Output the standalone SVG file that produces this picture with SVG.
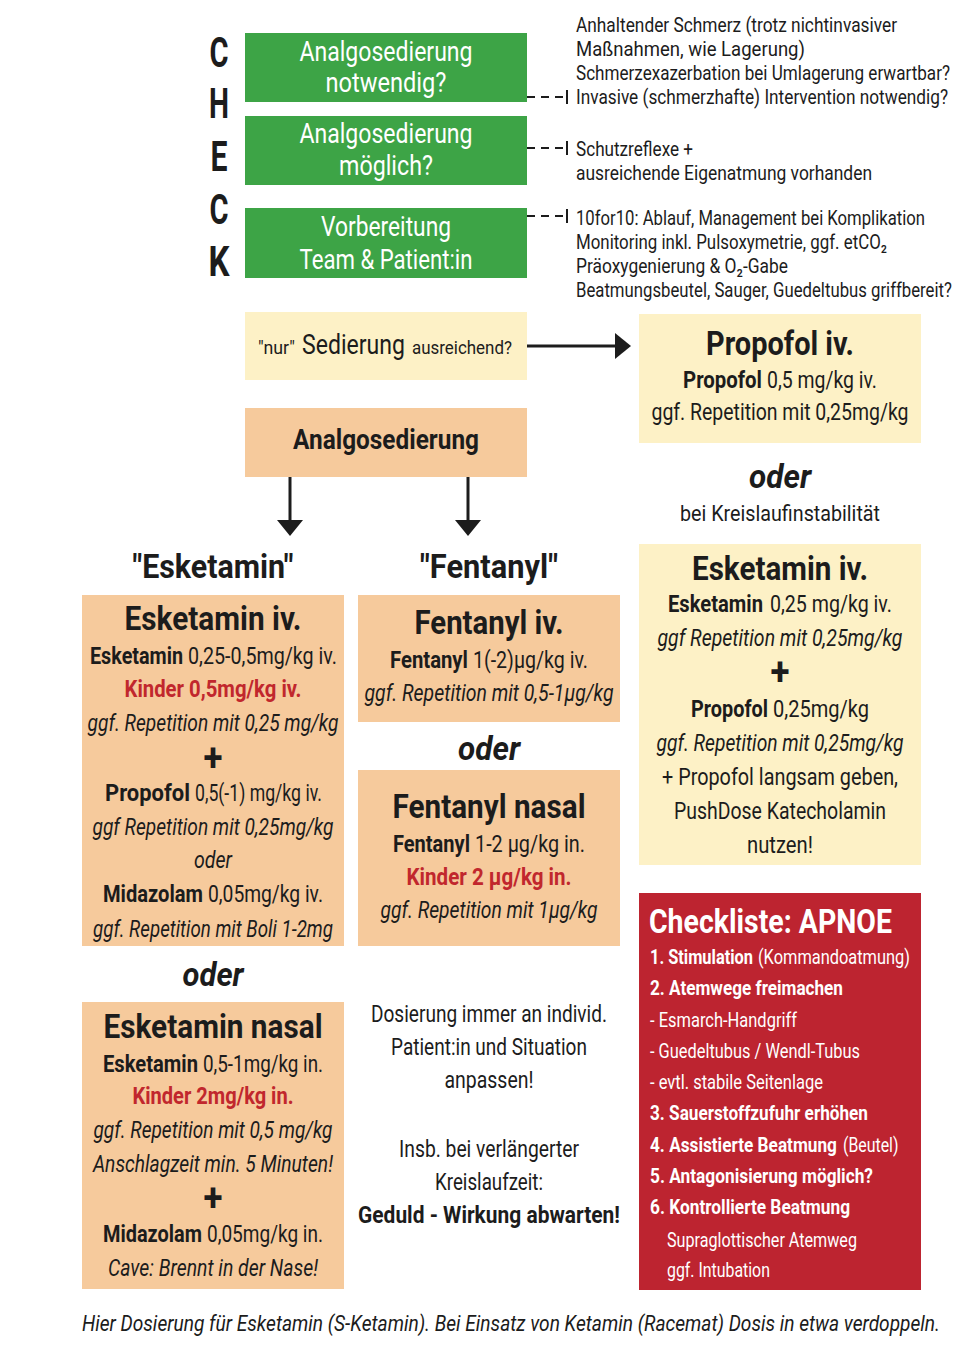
<svg xmlns="http://www.w3.org/2000/svg" width="958" height="1348" viewBox="0 0 958 1348">
<style>
text{font-family:Roboto,"Liberation Sans","DejaVu Sans",sans-serif;fill:#1c1c1c;transform:scaleX(.88);transform-box:fill-box;transform-origin:0 50%}
.c{text-anchor:middle;transform-origin:50% 50%}
.b{font-weight:700}
.i{font-style:italic}
.w{fill:#ffffff}
.r{fill:#c1272d}
.ck{font-size:43px;font-weight:700}
.g{font-size:28px}
.h{font-size:34px;font-weight:700}
.tt{font-size:33px;font-weight:700}
.bd{font-size:24px}
.pl{font-size:38px;font-weight:700}
.od{font-size:34px;font-weight:700;font-style:italic}
.sm{font-size:20px}
.nr{transform:scaleX(.78)}
.cl{font-size:21px;fill:#ffffff}
.ft{font-size:22px;font-style:italic;transform:scaleX(.8)}
.green{fill:#3da446}
.yel{fill:#fdf1c6}
.ora{fill:#f6ca9c}
.red{fill:#bd2430}
.ln{stroke:#1c1c1c;fill:none}
.dash{stroke-width:2;stroke-dasharray:8 6}
.tick{stroke-width:2}
.arr{stroke-width:3}
.head{fill:#1c1c1c}
</style>

<g id="check-letters">
<text class="ck c" x="219" y="67" textLength="21.6" lengthAdjust="spacingAndGlyphs">C</text>
<text class="ck c" x="219" y="118" textLength="22.7" lengthAdjust="spacingAndGlyphs">H</text>
<text class="ck c" x="219" y="171" textLength="19.3" lengthAdjust="spacingAndGlyphs">E</text>
<text class="ck c" x="219" y="224" textLength="21.6" lengthAdjust="spacingAndGlyphs">C</text>
<text class="ck c" x="219" y="276" textLength="23.9" lengthAdjust="spacingAndGlyphs">K</text>
</g>

<g id="node-notwendig">
<rect class="green" x="245" y="33" width="282" height="69"/>
<text class="g w c" x="386" y="61" textLength="196.6" lengthAdjust="spacingAndGlyphs">Analgosedierung</text>
<text class="g w c" x="386" y="92" textLength="137.5" lengthAdjust="spacingAndGlyphs">notwendig?</text>
</g>
<g id="node-moeglich">
<rect class="green" x="245" y="116" width="282" height="69"/>
<text class="g w c" x="386" y="143" textLength="196.6" lengthAdjust="spacingAndGlyphs">Analgosedierung</text>
<text class="g w c" x="386" y="175" textLength="106.8" lengthAdjust="spacingAndGlyphs">möglich?</text>
</g>
<g id="node-vorbereitung">
<rect class="green" x="245" y="208" width="282" height="70"/>
<text class="g w c" x="386" y="236" textLength="147.7" lengthAdjust="spacingAndGlyphs">Vorbereitung</text>
<text class="g w c" x="386" y="269" textLength="196.6" lengthAdjust="spacingAndGlyphs">Team &amp; Patient:in</text>
</g>

<g id="note-notwendig">
<text class="sm" x="576" y="32" textLength="364.8" lengthAdjust="spacingAndGlyphs">Anhaltender Schmerz (trotz nichtinvasiver</text>
<text class="sm" x="576" y="56" textLength="260.2" lengthAdjust="spacingAndGlyphs">Maßnahmen, wie Lagerung)</text>
<text class="sm nr" x="576" y="80" textLength="479.5" lengthAdjust="spacingAndGlyphs">Schmerzexazerbation bei Umlagerung erwartbar?</text>
<text class="sm nr" x="576" y="104" textLength="477" lengthAdjust="spacingAndGlyphs">Invasive (schmerzhafte) Intervention notwendig?</text>
</g>
<g id="note-moeglich">
<text class="sm" x="576" y="156" textLength="133" lengthAdjust="spacingAndGlyphs">Schutzreflexe +</text>
<text class="sm" x="576" y="180" textLength="336.4" lengthAdjust="spacingAndGlyphs">ausreichende Eigenatmung vorhanden</text>
</g>
<g id="note-vorbereitung">
<text class="sm" x="576" y="225" textLength="396.6" lengthAdjust="spacingAndGlyphs">10for10: Ablauf, Management bei Komplikation</text>
<text class="sm" x="576" y="249" textLength="353.4" lengthAdjust="spacingAndGlyphs">Monitoring inkl. Pulsoxymetrie, ggf. etCO₂</text>
<text class="sm" x="576" y="273" textLength="240.9" lengthAdjust="spacingAndGlyphs">Präoxygenierung &amp; O₂-Gabe</text>
<text class="sm nr" x="576" y="297" textLength="482" lengthAdjust="spacingAndGlyphs">Beatmungsbeutel, Sauger, Guedeltubus griffbereit?</text>
</g>

<g id="node-sedierung">
<rect class="yel" x="245" y="312" width="282" height="68"/>
<text font-size="19" x="258" y="354" textLength="42" lengthAdjust="spacingAndGlyphs">"nur"</text>
<text font-size="28" x="302" y="354" textLength="117" lengthAdjust="spacingAndGlyphs">Sedierung</text>
<text font-size="19" x="412" y="354" textLength="113.6" lengthAdjust="spacingAndGlyphs">ausreichend?</text>
</g>

<g id="node-analgosedierung">
<rect class="ora" x="245" y="408" width="282" height="69"/>
<text class="b c" font-size="28" x="386" y="449" textLength="211.4" lengthAdjust="spacingAndGlyphs">Analgosedierung</text>
</g>

<g id="node-propofol">
<rect class="yel" x="639" y="314" width="282" height="129"/>
<text class="tt c" x="780" y="355" textLength="168.2" lengthAdjust="spacingAndGlyphs">Propofol iv.</text>
<text class="bd b" x="683" y="388" textLength="89.8" lengthAdjust="spacingAndGlyphs">Propofol</text>
<text class="bd" x="767" y="388" textLength="125" lengthAdjust="spacingAndGlyphs">0,5 mg/kg iv.</text>
<text class="bd c" x="780" y="420" textLength="292" lengthAdjust="spacingAndGlyphs">ggf. Repetition mit 0,25mg/kg</text>
</g>

<g id="label-oder-right">
<text class="od c" x="780" y="488" textLength="70.5" lengthAdjust="spacingAndGlyphs">oder</text>
<text class="c" font-size="22" x="780" y="521" textLength="227.3" lengthAdjust="spacingAndGlyphs">bei Kreislaufinstabilität</text>
</g>

<g id="node-esketamin-propofol">
<rect class="yel" x="639" y="544" width="282" height="321"/>
<text class="tt c" x="780" y="580" textLength="200" lengthAdjust="spacingAndGlyphs">Esketamin iv.</text>
<text class="bd b" x="668" y="612" textLength="108" lengthAdjust="spacingAndGlyphs">Esketamin</text>
<text class="bd" x="770" y="612" textLength="138.6" lengthAdjust="spacingAndGlyphs">0,25 mg/kg iv.</text>
<text class="bd i c" x="780" y="646" textLength="278.4" lengthAdjust="spacingAndGlyphs">ggf Repetition mit 0,25mg/kg</text>
<text class="pl c" x="780" y="685" textLength="21.6" lengthAdjust="spacingAndGlyphs">+</text>
<text class="bd b" x="691" y="717" textLength="87.5" lengthAdjust="spacingAndGlyphs">Propofol</text>
<text class="bd" x="773" y="717" textLength="109.1" lengthAdjust="spacingAndGlyphs">0,25mg/kg</text>
<text class="bd i c" x="780" y="751" textLength="280.7" lengthAdjust="spacingAndGlyphs">ggf. Repetition mit 0,25mg/kg</text>
<text class="bd c" x="780" y="785" textLength="268.2" lengthAdjust="spacingAndGlyphs">+ Propofol langsam geben,</text>
<text class="bd c" x="780" y="819" textLength="240.9" lengthAdjust="spacingAndGlyphs">PushDose Katecholamin</text>
<text class="bd c" x="780" y="853" textLength="75" lengthAdjust="spacingAndGlyphs">nutzen!</text>
</g>

<g id="heading-esketamin">
<text class="h c" x="213" y="578" textLength="183" lengthAdjust="spacingAndGlyphs">"Esketamin"</text>
</g>
<g id="heading-fentanyl">
<text class="h c" x="489" y="578" textLength="156.8" lengthAdjust="spacingAndGlyphs">"Fentanyl"</text>
</g>

<g id="node-esketamin-iv">
<rect class="ora" x="82" y="595" width="262" height="351"/>
<text class="tt c" x="213" y="630" textLength="201.1" lengthAdjust="spacingAndGlyphs">Esketamin iv.</text>
<text class="bd b" x="90" y="664" textLength="105.7" lengthAdjust="spacingAndGlyphs">Esketamin</text>
<text class="bd" x="188" y="664" textLength="169.3" lengthAdjust="spacingAndGlyphs">0,25-0,5mg/kg iv.</text>
<text class="bd b c r" x="213" y="697" textLength="201.1" lengthAdjust="spacingAndGlyphs">Kinder 0,5mg/kg iv.</text>
<text class="bd i c" x="213" y="731" textLength="285.2" lengthAdjust="spacingAndGlyphs">ggf. Repetition mit 0,25 mg/kg</text>
<text class="pl c" x="213" y="771" textLength="21.6" lengthAdjust="spacingAndGlyphs">+</text>
<text class="bd b" x="105" y="801" textLength="96.6" lengthAdjust="spacingAndGlyphs">Propofol</text>
<text class="bd" x="195" y="801" textLength="144.3" lengthAdjust="spacingAndGlyphs">0,5(-1) mg/kg iv.</text>
<text class="bd i c" x="213" y="835" textLength="273.9" lengthAdjust="spacingAndGlyphs">ggf Repetition mit 0,25mg/kg</text>
<text class="bd i c" x="213" y="868" textLength="43.2" lengthAdjust="spacingAndGlyphs">oder</text>
<text class="bd b" x="103" y="902" textLength="113.6" lengthAdjust="spacingAndGlyphs">Midazolam</text>
<text class="bd" x="208" y="902" textLength="130.7" lengthAdjust="spacingAndGlyphs">0,05mg/kg iv.</text>
<text class="bd i c" x="213" y="937" textLength="272.7" lengthAdjust="spacingAndGlyphs">ggf. Repetition mit Boli 1-2mg</text>
</g>

<g id="label-oder-left">
<text class="od c" x="213" y="986" textLength="69.3" lengthAdjust="spacingAndGlyphs">oder</text>
</g>

<g id="node-esketamin-nasal">
<rect class="ora" x="82" y="1002" width="262" height="287"/>
<text class="tt c" x="213" y="1038" textLength="248.9" lengthAdjust="spacingAndGlyphs">Esketamin nasal</text>
<text class="bd b" x="103" y="1072" textLength="108" lengthAdjust="spacingAndGlyphs">Esketamin</text>
<text class="bd" x="203" y="1072" textLength="136.4" lengthAdjust="spacingAndGlyphs">0,5-1mg/kg in.</text>
<text class="bd b c r" x="213" y="1104" textLength="183" lengthAdjust="spacingAndGlyphs">Kinder 2mg/kg in.</text>
<text class="bd i c" x="213" y="1138" textLength="271.6" lengthAdjust="spacingAndGlyphs">ggf. Repetition mit 0,5 mg/kg</text>
<text class="bd i c" x="213" y="1172" textLength="272.7" lengthAdjust="spacingAndGlyphs">Anschlagzeit min. 5 Minuten!</text>
<text class="pl c" x="213" y="1211" textLength="21.6" lengthAdjust="spacingAndGlyphs">+</text>
<text class="bd b" x="103" y="1242" textLength="112.5" lengthAdjust="spacingAndGlyphs">Midazolam</text>
<text class="bd" x="207" y="1242" textLength="131.8" lengthAdjust="spacingAndGlyphs">0,05mg/kg in.</text>
<text class="bd i c" x="213" y="1276" textLength="238.6" lengthAdjust="spacingAndGlyphs">Cave: Brennt in der Nase!</text>
</g>

<g id="node-fentanyl-iv">
<rect class="ora" x="358" y="595" width="262" height="127"/>
<text class="tt c" x="489" y="634" textLength="169.3" lengthAdjust="spacingAndGlyphs">Fentanyl iv.</text>
<text class="bd b" x="390" y="668" textLength="88.6" lengthAdjust="spacingAndGlyphs">Fentanyl</text>
<text class="bd" x="473" y="668" textLength="130.7" lengthAdjust="spacingAndGlyphs">1(-2)µg/kg iv.</text>
<text class="bd i c" x="489" y="701" textLength="283" lengthAdjust="spacingAndGlyphs">ggf. Repetition mit 0,5-1µg/kg</text>
</g>

<g id="label-oder-mid">
<text class="od c" x="489" y="760" textLength="70.5" lengthAdjust="spacingAndGlyphs">oder</text>
</g>

<g id="node-fentanyl-nasal">
<rect class="ora" x="358" y="770" width="262" height="176"/>
<text class="tt c" x="489" y="818" textLength="219.3" lengthAdjust="spacingAndGlyphs">Fentanyl nasal</text>
<text class="bd b" x="393" y="852" textLength="87.5" lengthAdjust="spacingAndGlyphs">Fentanyl</text>
<text class="bd" x="475" y="852" textLength="125" lengthAdjust="spacingAndGlyphs">1-2 µg/kg in.</text>
<text class="bd b c r" x="489" y="885" textLength="187.5" lengthAdjust="spacingAndGlyphs">Kinder 2 µg/kg in.</text>
<text class="bd i c" x="489" y="918" textLength="246.6" lengthAdjust="spacingAndGlyphs">ggf. Repetition mit 1µg/kg</text>
</g>

<g id="note-dosierung">
<text class="bd c" x="489" y="1022" textLength="268.2" lengthAdjust="spacingAndGlyphs">Dosierung immer an individ.</text>
<text class="bd c" x="489" y="1055" textLength="222.7" lengthAdjust="spacingAndGlyphs">Patient:in und Situation</text>
<text class="bd c" x="489" y="1088" textLength="101.1" lengthAdjust="spacingAndGlyphs">anpassen!</text>
<text class="bd c" x="489" y="1157" textLength="204.5" lengthAdjust="spacingAndGlyphs">Insb. bei verlängerter</text>
<text class="bd c" x="489" y="1190" textLength="122.7" lengthAdjust="spacingAndGlyphs">Kreislaufzeit:</text>
<text class="bd b c" x="489" y="1223" textLength="297.7" lengthAdjust="spacingAndGlyphs">Geduld - Wirkung abwarten!</text>
</g>

<g id="node-checkliste">
<rect class="red" x="639" y="893" width="282" height="397"/>
<text class="h w" x="649" y="933" textLength="276.1" lengthAdjust="spacingAndGlyphs">Checkliste: APNOE</text>
<text class="cl b" x="650" y="964" textLength="117" lengthAdjust="spacingAndGlyphs">1. Stimulation</text>
<text class="cl" x="758" y="964" textLength="172.7" lengthAdjust="spacingAndGlyphs">(Kommandoatmung)</text>
<text class="cl b" x="650" y="995" textLength="219.3" lengthAdjust="spacingAndGlyphs">2. Atemwege freimachen</text>
<text class="cl" x="650" y="1027" textLength="167" lengthAdjust="spacingAndGlyphs">- Esmarch-Handgriff</text>
<text class="cl" x="650" y="1058" textLength="238.6" lengthAdjust="spacingAndGlyphs">- Guedeltubus / Wendl-Tubus</text>
<text class="cl" x="650" y="1089" textLength="196.6" lengthAdjust="spacingAndGlyphs">- evtl. stabile Seitenlage</text>
<text class="cl b" x="650" y="1120" textLength="247.7" lengthAdjust="spacingAndGlyphs">3. Sauerstoffzufuhr erhöhen</text>
<text class="cl b nr" x="650" y="1152" textLength="239.7" lengthAdjust="spacingAndGlyphs">4. Assistierte Beatmung</text>
<text class="cl" x="843" y="1152" textLength="63" lengthAdjust="spacingAndGlyphs">(Beutel)</text>
<text class="cl b" x="650" y="1183" textLength="253.4" lengthAdjust="spacingAndGlyphs">5. Antagonisierung möglich?</text>
<text class="cl b" x="650" y="1214" textLength="227.3" lengthAdjust="spacingAndGlyphs">6. Kontrollierte Beatmung</text>
<text class="cl" x="667" y="1247" textLength="215.9" lengthAdjust="spacingAndGlyphs">Supraglottischer Atemweg</text>
<text class="cl" x="667" y="1277" textLength="117" lengthAdjust="spacingAndGlyphs">ggf. Intubation</text>
</g>

<g id="footer">
<text class="ft" x="82" y="1331" textLength="1072.5" lengthAdjust="spacingAndGlyphs">Hier Dosierung für Esketamin (S-Ketamin). Bei Einsatz von Ketamin (Racemat) Dosis in etwa verdoppeln.</text>
</g>

<g id="connectors">
<path class="ln dash" d="M527 97 H566"/>
<path class="ln tick" d="M567 90 V104"/>
<path class="ln dash" d="M527 148 H566"/>
<path class="ln tick" d="M567 141 V155"/>
<path class="ln dash" d="M527 216 H566"/>
<path class="ln tick" d="M567 209 V223"/>
<path class="ln arr" d="M527 346 H617"/>
<polygon class="head" points="615,333 631,346 615,359"/>
<path class="ln arr" d="M290 477 V522"/>
<polygon class="head" points="277,520 290,536 303,520"/>
<path class="ln arr" d="M468 477 V522"/>
<polygon class="head" points="455,520 468,536 481,520"/>
</g>
</svg>
